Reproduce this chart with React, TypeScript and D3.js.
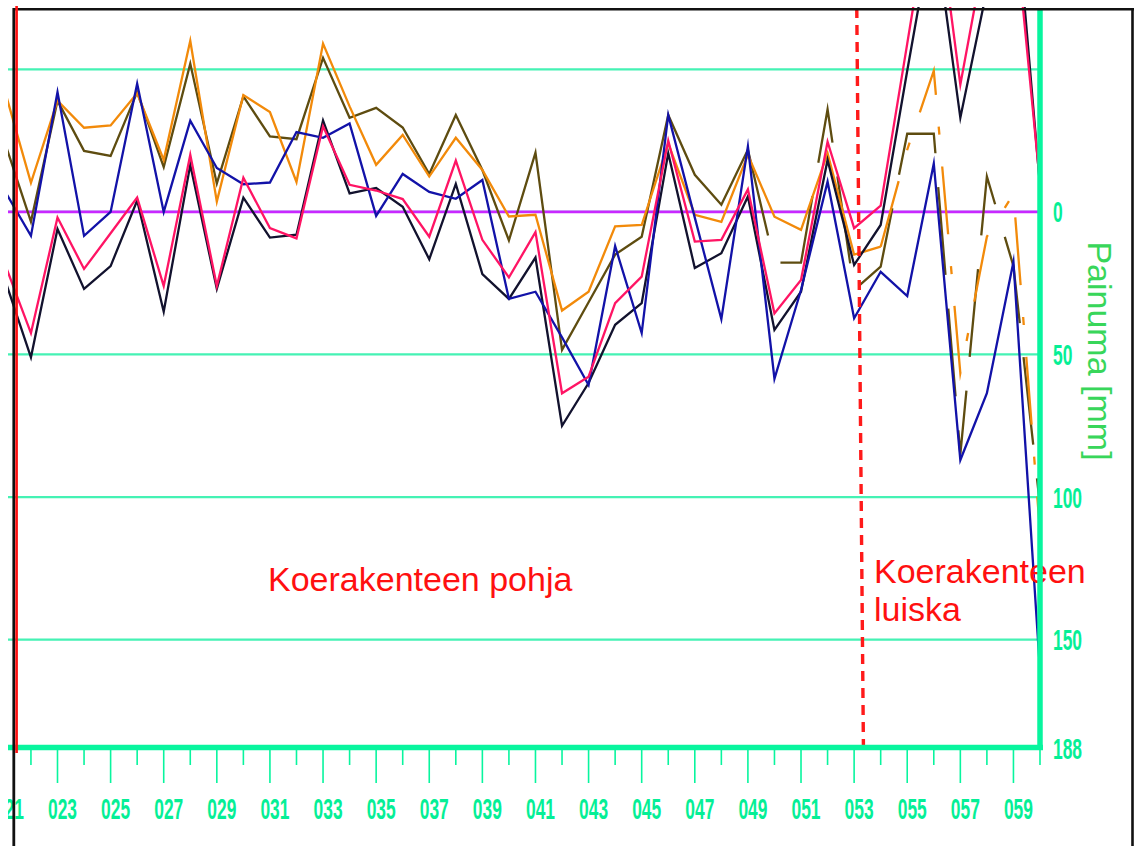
import React from 'react';
import * as d3 from 'd3';

// Stations (paalu) 021 ... 060
const stations = [21, 22, 23, 24, 25, 26, 27, 28, 29, 30, 31, 32, 33, 34, 35, 36, 37, 38, 39, 40,
  41, 42, 43, 44, 45, 46, 47, 48, 49, 50, 51, 52, 53, 54, 55, 56, 57, 58, 59, 60];

// Painuma [mm] per series (positive = down)
const navySeries = [23.2, 51, 6, 27, 19, -4, 35, -16.5, 27, -5, 9, 8, -32, -6.5, -8.4, -1.8, 16.6, -9.8, 21.8, 30.5,
  16, 75, 60, 39.6, 32, -20.6, 19.7, 14.5, -5.4, 41.4, 28, -18.2, 18.6, 4.6, -49.5, -102, -33, -78, -118, -9];
const pinkSeries = [17.8, 42.5, 2, 20, 7.5, -5, 26, -20, 26, -12, 5.7, 9.3, -30, -9.5, -7.5, -4.5, 8.7, -18, 9.8, 23,
  7.1, 63.6, 57.8, 32, 22.7, -25, 10.4, 9.8, -7.9, 35.6, 23.9, -24.6, 5.7, -2.2, -59, -116, -44.6, -95, -106, -10];
const blueSeries = [-7.6, 8.4, -42, 8.4, 0, -45, 0, -32, -15.4, -9.7, -10.3, -28, -26, -31, 1.4, -13.3, -7, -4.6, -11.2, 30.5,
  28, 44, 60.7, 12, 42.5, -34, 2, 37.6, -23, 58.5, 27.4, -10.6, 37.3, 21, 29.5, -17, 87, 63.6, 17.5, 161];
const oliveSeries = [-24.8, 3.4, -39, -21.4, -19.6, -42, -15.7, -52, -10, -40.5, -26.5, -25.5, -54, -33, -36.5, -29.6, -13.3, -34, -14.7, 10,
  -20.8, 48.4, 31.7, 15, 8.7, -34, -13, -2.5, -21.8, 17.8, 17.8, -36, 27.4, 19.2, -27.4, -27.4, 85, -12.4, 19, 103];
const orangeSeries = [-43, -10.2, -39, -29.5, -30.3, -41.6, -18.2, -60, -3.6, -41, -35, -10.5, -59, -37, -16.5, -27, -12.4, -26, -14.7, 1.6,
  1, 34.6, 28, 5.1, 4.6, -24, 1, 3.5, -20, 1.7, 6.3, -20.6, 15, 12.2, -21.8, -49.5, 56.5, 8.7, -6.3, 112];

const gridValues = [-50, 0, 50, 100, 150];
const yTickValues = [0, 50, 100, 150, 188];
const xMajorStations = [21, 23, 25, 27, 29, 31, 33, 35, 37, 39, 41, 43, 45, 47, 49, 51, 53, 55, 57, 59];
const xMinorStations = [22, 24, 26, 28, 30, 32, 34, 36, 38, 40, 42, 44, 46, 48, 50, 52, 54, 56, 58, 60];
const yTitle = 'Painuma [mm]';
const leftNote = 'Koerakenteen pohja';
const rightNote = ['Koerakenteen', 'luiska'];
const dividerStation = [53.1, 53.35];

const GREEN_AXIS = '#08f59e';
const GREEN_GRID = '#45f2b4';
const GREEN_LABEL = '#05ef96';
const FONT = 'Liberation Sans, Arial, sans-serif';

export default function App() {
  const x = d3.scaleLinear().domain([23, 60]).range([57.5, 1040]);
  const y = d3.scaleLinear().domain([-71.5, 188]).range([8, 748]);

  const mk = (vals: number[], from: number, to: number) =>
    d3.line<number>()
      .x((_, i) => x(stations[from + i]))
      .y((v) => y(v))(vals.slice(from, to + 1)) || '';

  const series = [
    { key: 'olive', vals: oliveSeries, color: '#5e4c10', dashFrom: 49, dash: '88 34' },
    { key: 'orange', vals: orangeSeries, color: '#f28a0a', dashFrom: 54, dash: '68 32 8 32' },
    { key: 'navy', vals: navySeries, color: '#12122e' },
    { key: 'blue', vals: blueSeries, color: '#1212a8' },
    { key: 'pink', vals: pinkSeries, color: '#ff1464' },
  ];

  const yBottom = y(188);
  const xRight = x(60);

  return (
    <svg width={1136} height={846} viewBox="0 0 1136 846"
      style={{ display: 'block', position: 'absolute', left: 0, top: 0 }}>
      <defs>
        <clipPath id="plotClip">
          <rect x={8} y={7} width={xRight - 8} height={yBottom - 7} />
        </clipPath>
        <clipPath id="pageClip">
          <rect x={8} y={0} width={1128} height={846} />
        </clipPath>
      </defs>
      <rect x={0} y={0} width={1136} height={846} fill="#ffffff" />

      <g clipPath="url(#pageClip)">
        {/* gridlines */}
        {gridValues.map((g) => (
          <line key={'g' + g} x1={8} x2={xRight} y1={y(g)} y2={y(g)} stroke={GREEN_GRID} strokeWidth={2.2} />
        ))}
        {/* zero line */}
        <line x1={8} x2={xRight - 2} y1={y(0)} y2={y(0)} stroke="#c828ff" strokeWidth={2.6} />

        {/* series */}
        <g clipPath="url(#plotClip)" fill="none" strokeWidth={2.3} strokeLinejoin="miter" strokeMiterlimit={10}>
          {series.map((s) => {
            if (s.dashFrom) {
              const idx = stations.indexOf(s.dashFrom);
              return (
                <g key={s.key}>
                  <path d={mk(s.vals, 0, idx)} stroke={s.color} />
                  <path d={mk(s.vals, idx, stations.length - 1)} stroke={s.color} strokeDasharray={s.dash} />
                </g>
              );
            }
            return <path key={s.key} d={mk(s.vals, 0, stations.length - 1)} stroke={s.color} />;
          })}
        </g>

        {/* divider */}
        <line x1={x(dividerStation[0])} x2={x(dividerStation[1])} y1={8} y2={yBottom - 2}
          stroke="#ff1a1a" strokeWidth={3.4} strokeDasharray="10 7" />

        {/* notes */}
        <text x={268} y={591} fontFamily={FONT} fontSize={34} fill="#ff1010">{leftNote}</text>
        <text x={874} y={583} fontFamily={FONT} fontSize={34} fill="#ff1010">{rightNote[0]}</text>
        <text x={874} y={621} fontFamily={FONT} fontSize={34} fill="#ff1010">{rightNote[1]}</text>

        {/* bottom axis */}
        {xMinorStations.map((s) => (
          <line key={'mi' + s} x1={x(s)} x2={x(s)} y1={yBottom} y2={yBottom + 17} stroke={GREEN_AXIS} strokeWidth={1.6} />
        ))}
        {xMajorStations.map((s) => (
          <line key={'ma' + s} x1={x(s)} x2={x(s)} y1={yBottom} y2={yBottom + 35} stroke={GREEN_AXIS} strokeWidth={1.6} />
        ))}
        {xMajorStations.map((s) => (
          <text key={'xl' + s} transform={`translate(${x(s) + 5},819) scale(0.6,1)`} textAnchor="middle"
            fontFamily={FONT} fontSize={29} fontWeight="bold" fill={GREEN_LABEL}>
            {d3.format('03d')(s)}
          </text>
        ))}
        <line x1={8} x2={xRight + 3} y1={yBottom - 0.5} y2={yBottom - 0.5} stroke={GREEN_AXIS} strokeWidth={5.5} />

        {/* right axis */}
        <line x1={xRight} x2={xRight} y1={8} y2={yBottom + 2} stroke={GREEN_AXIS} strokeWidth={5.5} />
        {yTickValues.map((v) => (
          <text key={'yl' + v} transform={`translate(1053,${y(v) + 10.5}) scale(0.6,1)`} textAnchor="start"
            fontFamily={FONT} fontSize={29} fontWeight="bold" fill={GREEN_LABEL}>
            {v}
          </text>
        ))}
        <text transform={`translate(1088,351) rotate(90)`} textAnchor="middle" fontFamily={FONT} fontSize={34} fill="#38d65a">
          {yTitle}
        </text>

        {/* frame */}
        <line x1={13} x2={1134} y1={9.2} y2={9.2} stroke="#111" strokeWidth={2.6} />
        <line x1={1132.5} x2={1132.5} y1={8} y2={846} stroke="#111" strokeWidth={2.6} />
        <line x1={13.8} x2={13.8} y1={8} y2={846} stroke="#111" strokeWidth={2.8} />
        <line x1={16.6} x2={16.6} y1={6} y2={753} stroke="#ff1010" strokeWidth={2.6} />
      </g>
    </svg>
  );
}
